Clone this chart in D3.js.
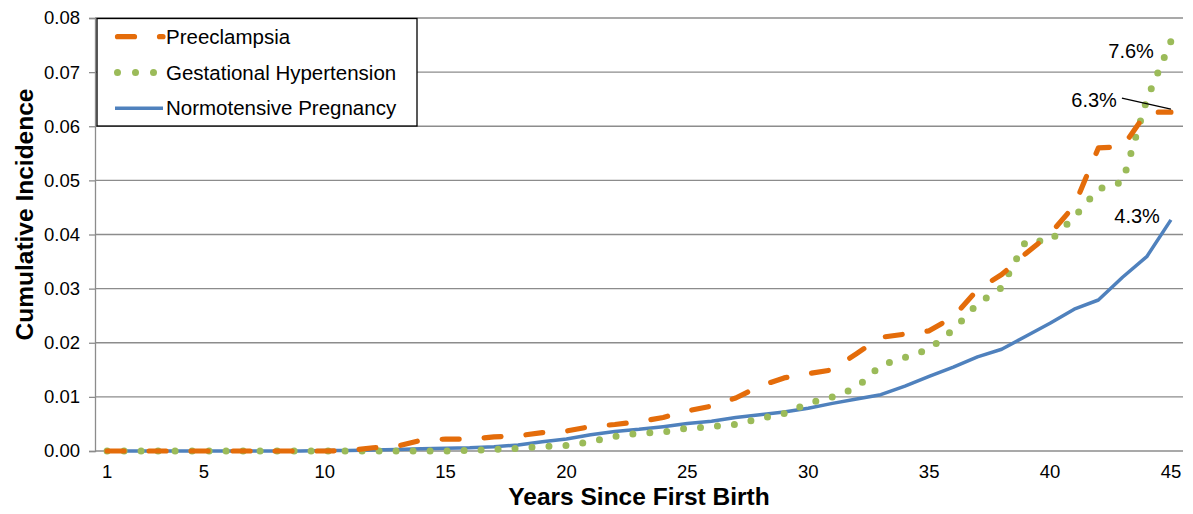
<!DOCTYPE html>
<html>
<head>
<meta charset="utf-8">
<script src="https://cdn.jsdelivr.net/npm/d3@7"></script>
<style>
  html, body { margin: 0; padding: 0; background: #fff; }
  svg { display: block; font-family: "Liberation Sans", Arial, sans-serif; }
</style>
</head>
<body>
<svg id="chart" width="1193" height="514"></svg>
<script>
// ---- data ----
const years = d3.range(1, 46);
const xTickLabels = [1, 5, 10, 15, 20, 25, 30, 35, 40, 45];
const yTicks = [0, 0.01, 0.02, 0.03, 0.04, 0.05, 0.06, 0.07, 0.08];
const seriesNames = ["Preeclampsia", "Gestational Hypertension", "Normotensive Pregnancy"];
const preeclampsia = [
  0, 0, 0, 0, 0, 0, 0, 0, 0, 0,
  0.0001, 0.0006, 0.0009, 0.0020, 0.0022, 0.0022, 0.0026, 0.0028, 0.0034, 0.0037,
  0.0045, 0.0049, 0.0054, 0.0062, 0.0074, 0.0083, 0.0098, 0.0120, 0.0135, 0.0143,
  0.0150, 0.0180, 0.0210, 0.0216, 0.0222, 0.0248, 0.0298, 0.0326, 0.0365, 0.0401,
  0.0453, 0.0560, 0.0562, 0.0626, 0.0626
];
const gestational = [
  0, 0, 0, 0, 0, 0, 0, 0, 0, 0,
  0, 0, 0, 0, 0, 0.0001, 0.0003, 0.0005, 0.0008, 0.0010,
  0.0017, 0.0027, 0.0033, 0.0035, 0.0042, 0.0045, 0.0049, 0.0060, 0.0069, 0.0088,
  0.0100, 0.0117, 0.0158, 0.0173, 0.0188, 0.0224, 0.0272, 0.0302, 0.0388, 0.0388,
  0.0432, 0.0484, 0.0497, 0.0649, 0.0757
];
const normotensive = [
  0, 0, 0, 0, 0, 0, 0, 0, 0, 0.0001,
  0.0001, 0.0002, 0.0003, 0.0004, 0.0005, 0.0006, 0.0008, 0.0011, 0.0017, 0.0022,
  0.0030, 0.0036, 0.0040, 0.0045, 0.0051, 0.0055, 0.0062, 0.0067, 0.0072, 0.0079,
  0.0088, 0.0096, 0.0104, 0.0120, 0.0138, 0.0155, 0.0174, 0.0188, 0.0212, 0.0236,
  0.0262, 0.0279, 0.0321, 0.0359, 0.0427
];
const endLabels = ["7.6%", "6.3%", "4.3%"];

// ---- layout ----
const svg = d3.select("#chart");
const pLeft = 95, pRight = 1183, pTop = 18, pBottom = 451;
const x = d3.scaleBand().domain(years).range([pLeft, pRight]);
const xc = d => x(d) + x.bandwidth() / 2;
const y = d3.scaleLinear().domain([0, 0.08]).range([pBottom, pTop]);

const colors = { pre: "#E46C0A", ges: "#9BBB59", nor: "#4F81BD" };
const gridColor = "#8C8C8C";
const FONT = "Liberation Sans, Arial, sans-serif";

// gridlines
svg.append("g").selectAll("line").data(yTicks).join("line")
  .attr("x1", pLeft).attr("x2", pRight)
  .attr("y1", d => y(d)).attr("y2", d => y(d))
  .attr("stroke", gridColor).attr("stroke-width", 1.3);

// y axis
const yAxis = svg.append("g").attr("transform", `translate(${pLeft},0)`)
  .call(d3.axisLeft(y).tickValues(yTicks).tickFormat(d3.format(".2f")).tickSize(6).tickPadding(9));
yAxis.select(".domain").attr("stroke", gridColor).attr("stroke-width", 1.3);
yAxis.selectAll(".tick line").attr("stroke", gridColor).attr("stroke-width", 1.3);
yAxis.selectAll("text").attr("font-size", 18.5).attr("fill", "#000").attr("font-family", FONT);

// x axis
const xAxis = svg.append("g").attr("transform", `translate(0,${pBottom})`)
  .call(d3.axisBottom(x).tickValues(xTickLabels).tickSize(0).tickPadding(14));
xAxis.select(".domain").remove();
xAxis.selectAll("text").attr("font-size", 18.5).attr("fill", "#000").attr("font-family", FONT);

// axis titles
svg.append("text")
  .attr("x", (pLeft + pRight) / 2).attr("y", 505)
  .attr("text-anchor", "middle").attr("font-weight", "bold").attr("font-size", 24.5)
  .text("Years Since First Birth");
svg.append("text")
  .attr("transform", `translate(33,214.5) rotate(-90)`)
  .attr("text-anchor", "middle").attr("font-weight", "bold").attr("font-size", 24.5)
  .text("Cumulative Incidence");

// lines
const line = data => d3.line().x((d, i) => xc(years[i])).y(d => y(d))(data);

svg.append("path").attr("d", line(normotensive))
  .attr("fill", "none").attr("stroke", colors.nor).attr("stroke-width", 3.5)
  .attr("stroke-linejoin", "round");
svg.append("path").attr("d", line(gestational))
  .attr("fill", "none").attr("stroke", colors.ges).attr("stroke-width", 7)
  .attr("stroke-linecap", "round").attr("stroke-dasharray", "0,17");
svg.append("path").attr("d", line(preeclampsia))
  .attr("fill", "none").attr("stroke", colors.pre).attr("stroke-width", 5.2)
  .attr("stroke-linecap", "round").attr("stroke-linejoin", "round")
  .attr("stroke-dasharray", "17,25");

// end labels
const lastX = xc(years[years.length - 1]);
const gLast = gestational[gestational.length - 1];
const pLast = preeclampsia[preeclampsia.length - 1];
const nLast = normotensive[normotensive.length - 1];
const lab = svg.append("g").attr("font-size", 20).attr("fill", "#000");
lab.append("text").attr("x", lastX - 17).attr("y", y(gLast) + 17)
  .attr("text-anchor", "end").text(endLabels[0]);
lab.append("text").attr("x", lastX - 54).attr("y", y(pLast) - 5)
  .attr("text-anchor", "end").text(endLabels[1]);
svg.append("line")
  .attr("x1", lastX - 49).attr("y1", y(pLast) - 14)
  .attr("x2", lastX).attr("y2", y(pLast) - 3)
  .attr("stroke", "#000").attr("stroke-width", 1.2);
lab.append("text").attr("x", lastX - 11).attr("y", y(nLast) + 3)
  .attr("text-anchor", "end").text(endLabels[2]);

// legend
const lg = svg.append("g");
lg.append("rect").attr("x", 97).attr("y", 18.5).attr("width", 320).attr("height", 107.5)
  .attr("fill", "#fff").attr("stroke", "#000").attr("stroke-width", 1.3);
const legendRows = [
  { name: seriesNames[0], color: colors.pre, w: 5.2, dash: "17,25", cap: "round" },
  { name: seriesNames[1], color: colors.ges, w: 7, dash: "0,18", cap: "round" },
  { name: seriesNames[2], color: colors.nor, w: 3.5, dash: null, cap: "butt" }
];
legendRows.forEach((r, i) => {
  const cy = 36.7 + i * 35.8;
  const ln = lg.append("line").attr("x1", r.dash ? 117.5 : 115).attr("x2", 163)
    .attr("y1", cy).attr("y2", cy)
    .attr("stroke", r.color).attr("stroke-width", r.w).attr("stroke-linecap", r.cap);
  if (r.dash) ln.attr("stroke-dasharray", r.dash);
  lg.append("text").attr("x", 166).attr("y", cy + 7).attr("font-size", 20.5)
    .attr("fill", "#000").text(r.name);
});
</script>
</body>
</html>
